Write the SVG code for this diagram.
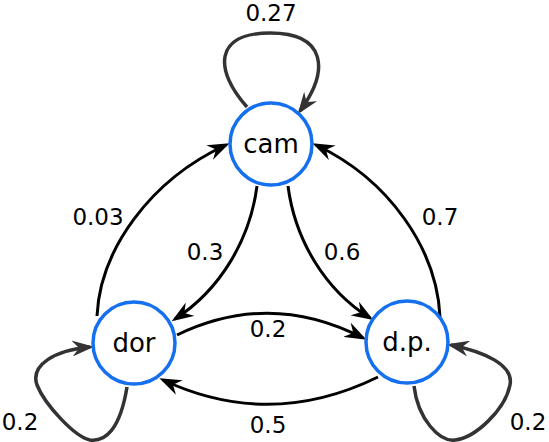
<svg xmlns="http://www.w3.org/2000/svg" width="549" height="442" viewBox="0 0 549 442">
<style>
.node{fill:#ffffff;stroke:#1570ef;stroke-width:3.5}
.lbl{font-family:"DejaVu Sans","Liberation Sans",sans-serif;font-size:26px;fill:#000;text-anchor:middle}
.el{font-family:"DejaVu Sans","Liberation Sans",sans-serif;font-size:23px;fill:#000;text-anchor:middle}
.e{fill:none;stroke:#000;stroke-width:3}
.loop{fill:none;stroke:#333;stroke-width:3.5}
</style>
<defs>
<marker id="ab" viewBox="0 0 22 16" refX="18" refY="8" markerWidth="22" markerHeight="16" markerUnits="userSpaceOnUse" orient="auto"><path d="M0,0 L22,8 L0,16 L7,8 Z" fill="#000"/></marker>
<marker id="ag" viewBox="0 0 22 16" refX="18" refY="8" markerWidth="22" markerHeight="16" markerUnits="userSpaceOnUse" orient="auto"><path d="M0,0 L22,8 L0,16 L7,8 Z" fill="#333"/></marker>
</defs>
<rect width="549" height="442" fill="#fff"/>
<g id="connectors">
<path class="loop" d="M247,107 C214,70 214,33 270,33 C326,33 330,70 300,111" marker-end="url(#ag)"/>
<path class="loop" d="M127,387 C120,430 105,442 90,440 C75,437 45,405 37,385 C30,365 55,350 90,347" marker-end="url(#ag)"/>
<path class="loop" d="M414,386 C418,420 440,442 455,440 C475,438 505,410 510,385 C514,365 485,352 451,345" marker-end="url(#ag)"/>
<path class="e" d="M97,316 C100,250 150,180 226,145" marker-end="url(#ab)"/>
<path class="e" d="M257,186 C250,240 220,290 175,319" marker-end="url(#ab)"/>
<path class="e" d="M288,186 C295,240 325,290 370,318" marker-end="url(#ab)"/>
<path class="e" d="M440,317 C437,250 390,180 316,145" marker-end="url(#ab)"/>
<path class="e" d="M177,335 Q270,290 363,338" marker-end="url(#ab)"/>
<path class="e" d="M378,377 Q270,430 163,380" marker-end="url(#ab)"/>
<text class="el" x="271" y="21">0.27</text>
<text class="el" x="98" y="225">0.03</text>
<text class="el" x="205" y="260">0.3</text>
<text class="el" x="342" y="260">0.6</text>
<text class="el" x="440" y="225">0.7</text>
<text class="el" x="268" y="337">0.2</text>
<text class="el" x="268" y="433">0.5</text>
<text class="el" x="20" y="430">0.2</text>
<text class="el" x="528" y="430">0.2</text>
</g>
<g id="node-cam"><circle class="node" cx="271" cy="144" r="41"/><text class="lbl" x="271" y="153">cam</text></g>
<g id="node-dor"><circle class="node" cx="134" cy="343" r="41"/><text class="lbl" x="134" y="352">dor</text></g>
<g id="node-dp"><circle class="node" cx="407" cy="342" r="41"/><text class="lbl" x="407" y="351">d.p.</text></g>
</svg>
